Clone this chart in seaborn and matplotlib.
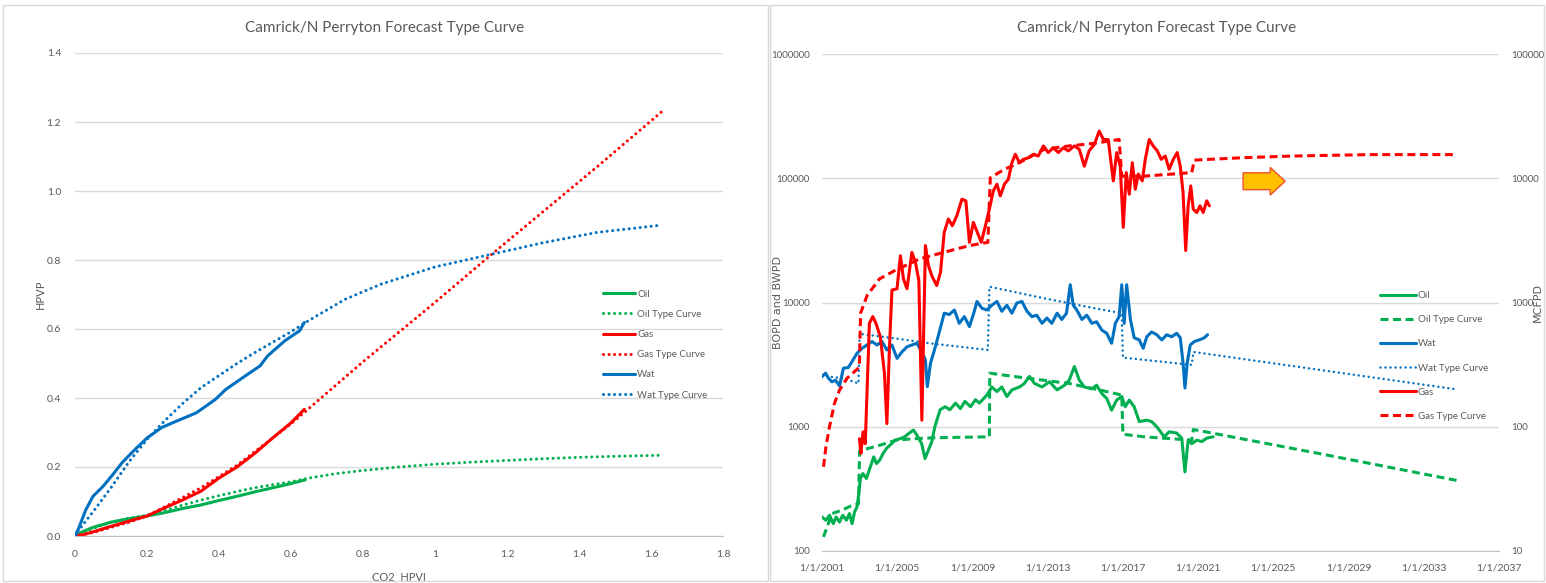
import matplotlib
matplotlib.use("Agg")
import matplotlib.pyplot as plt
import matplotlib.dates as mdates
from matplotlib.patches import Rectangle, FancyArrow
from matplotlib.ticker import FuncFormatter, NullLocator
import seaborn as sns
import pandas as pd
import numpy as np

# ---- left chart: cumulative HPVP against CO2 HPVI
oil_hpvi = [0, 0.02, 0.05, 0.1, 0.15, 0.2, 0.25, 0.3, 0.35, 0.4, 0.45, 0.5, 0.55, 0.6, 0.64]
oil_hpvp = [0, 0.012, 0.025, 0.04, 0.05, 0.058, 0.068, 0.08, 0.09, 0.103, 0.115, 0.128, 0.14, 0.152, 0.163]
oil_tc_hpvi = [0, 0.02, 0.05, 0.1, 0.15, 0.2, 0.25, 0.3, 0.35, 0.4, 0.45, 0.5, 0.55, 0.6, 0.65,
               0.72, 0.8, 0.9, 1.0, 1.1, 1.2, 1.3, 1.4, 1.5, 1.63]
oil_tc_hpvp = [0, 0.01, 0.022, 0.04, 0.052, 0.06, 0.074, 0.09, 0.104, 0.117, 0.129, 0.14, 0.149, 0.157, 0.168,
               0.18, 0.19, 0.2, 0.208, 0.214, 0.219, 0.224, 0.228, 0.231, 0.234]

gas_hpvi = [0, 0.02, 0.05, 0.1, 0.15, 0.2, 0.25, 0.3, 0.35, 0.4, 0.45, 0.5, 0.55, 0.6, 0.637]
gas_hpvp = [0, 0.003, 0.012, 0.028, 0.043, 0.058, 0.082, 0.105, 0.13, 0.168, 0.2, 0.24, 0.285, 0.328, 0.367]
gas_tc_hpvi = [0, 0.05, 0.1, 0.15, 0.2, 0.25, 0.3, 0.35, 0.4, 0.45, 0.5, 0.55, 0.6, 0.65,
               0.8, 1.0, 1.15, 1.3, 1.45, 1.63]
gas_tc_hpvp = [0, 0.01, 0.025, 0.04, 0.058, 0.085, 0.112, 0.14, 0.172, 0.205, 0.245, 0.285, 0.325, 0.37,
               0.505, 0.677, 0.81, 0.94, 1.07, 1.23]

wat_hpvi = [0, 0.01, 0.03, 0.05, 0.078, 0.105, 0.132, 0.166, 0.2, 0.24, 0.282, 0.337, 0.39, 0.419,
            0.473, 0.514, 0.535, 0.583, 0.624, 0.637]
wat_hpvp = [0, 0.022, 0.076, 0.115, 0.144, 0.178, 0.214, 0.25, 0.284, 0.314, 0.333, 0.357, 0.396, 0.425,
            0.464, 0.493, 0.522, 0.566, 0.595, 0.619]
wat_tc_hpvi = [0, 0.02, 0.05, 0.1, 0.15, 0.2, 0.25, 0.3, 0.35, 0.4, 0.45, 0.5, 0.55, 0.6, 0.65,
               0.75, 0.85, 1.0, 1.15, 1.3, 1.45, 1.62]
wat_tc_hpvp = [0, 0.03, 0.07, 0.14, 0.215, 0.28, 0.335, 0.385, 0.43, 0.465, 0.5, 0.532, 0.562, 0.592, 0.625,
               0.686, 0.73, 0.78, 0.815, 0.85, 0.88, 0.90]

# ---- right chart: rates vs time (decimal years), oil/water in BPD, gas in MCFPD
oil_yr = [2001.0, 2001.2, 2001.4, 2001.6, 2001.75, 2001.93, 2002.1, 2002.3, 2002.46, 2002.6, 2002.73, 2002.86,
          2002.96, 2003.04, 2003.18, 2003.36, 2003.57, 2003.75, 2003.9, 2004.07, 2004.25, 2004.43, 2004.7,
          2004.88, 2005.14, 2005.4, 2005.6, 2005.86, 2006.04, 2006.3, 2006.48, 2006.66, 2006.84, 2007.0,
          2007.28, 2007.55, 2007.8, 2008.1, 2008.36, 2008.6, 2008.9, 2009.16, 2009.37, 2009.77, 2010.03,
          2010.3, 2010.56, 2010.83, 2011.1, 2011.5, 2011.76, 2012.03, 2012.3, 2012.7, 2013.1, 2013.5,
          2013.9, 2014.15, 2014.42, 2014.68, 2014.95, 2015.35, 2015.6, 2015.88, 2016.14, 2016.4, 2016.67,
          2016.94, 2017.13, 2017.34, 2017.6, 2017.87, 2018.27, 2018.53, 2018.8, 2019.2, 2019.46, 2019.86,
          2020.13, 2020.3, 2020.47, 2020.66, 2020.93, 2021.2, 2021.46, 2021.8]
oil_bpd = [188, 177, 194, 166, 188, 171, 194, 177, 200, 166, 206, 226,
           290, 383, 420, 383, 475, 572, 505, 540, 610, 670, 730,
           780, 800, 830, 880, 940, 860, 730, 555, 650, 760, 1000,
           1370, 1450, 1370, 1550, 1400, 1600, 1450, 1650, 1550, 1800, 2090,
           1920, 2090, 1750, 1980, 2090, 2230, 2540, 2230, 2090, 2300, 1980,
           2160, 2380, 3050, 2380, 2090, 2020, 2160, 1850, 1690, 1360, 1640,
           1750, 1450, 1640, 1450, 1100, 1130, 1100, 1000, 830, 910, 890,
           810, 433, 780, 730, 780, 760, 810, 830]

oil_tc_yr = [2001.08, 2001.53, 2002.06, 2002.6, 2002.94, 2003.0, 2004.07, 2004.96, 2005.86, 2006.9, 2009.9,
             2009.92, 2010.7, 2012.0, 2014.15, 2015.74, 2016.94, 2017.0, 2018.13, 2020.66, 2020.75,
             2027.4, 2034.74]
oil_tc_bpd = [130, 200, 213, 233, 240, 640, 710, 780, 800, 815, 830,
              2700, 2600, 2450, 2230, 1980, 1800, 870, 830, 780, 950,
              610, 370]

wat_yr = [2001.0, 2001.19, 2001.35, 2001.53, 2001.72, 2001.93, 2002.14, 2002.4, 2002.6, 2002.86, 2003.13,
          2003.39, 2003.66, 2003.92, 2004.19, 2004.45, 2004.72, 2004.99, 2005.25, 2005.52, 2005.78, 2006.05,
          2006.31, 2006.5, 2006.6, 2006.77, 2006.98, 2007.24, 2007.5, 2007.77, 2008.04, 2008.3, 2008.57,
          2008.84, 2009.1, 2009.24, 2009.5, 2009.77, 2010.03, 2010.3, 2010.56, 2010.83, 2011.1, 2011.36,
          2011.63, 2011.9, 2012.16, 2012.42, 2012.7, 2012.96, 2013.22, 2013.5, 2013.75, 2014.0, 2014.2,
          2014.36, 2014.55, 2014.82, 2015.08, 2015.35, 2015.6, 2015.88, 2016.14, 2016.4, 2016.6, 2016.8,
          2016.94, 2017.07, 2017.2, 2017.4, 2017.6, 2017.87, 2018.08, 2018.27, 2018.53, 2018.8, 2019.07,
          2019.33, 2019.6, 2019.86, 2020.05, 2020.2, 2020.3, 2020.42, 2020.58, 2020.8, 2021.06, 2021.33,
          2021.5]
wat_bpd = [2530, 2700, 2450, 2300, 2370, 2130, 2960, 3000, 3350, 3900, 4280,
           4550, 4850, 4550, 4850, 4150, 4550, 3550, 4000, 4400, 4550, 4700,
           4000, 3450, 2100, 3250, 4150, 5800, 8200, 8000, 8700, 6800, 7700,
           6400, 8500, 10200, 9000, 8700, 9500, 10200, 8500, 9500, 8200, 9900,
           10200, 8500, 7700, 7900, 6800, 7500, 6800, 8200, 7300, 8200, 13900,
           9500, 8700, 7300, 7900, 6800, 7000, 6000, 5650, 4700, 6800, 7700,
           13900, 6800, 13900, 7300, 5200, 5000, 4280, 5300, 5800, 5500, 5000,
           5500, 5300, 5650, 5200, 3250, 2050, 3250, 4550, 4850, 5000, 5200,
           5500]

wat_tc_yr = [2001.0, 2001.4, 2002.2, 2002.94, 2003.0, 2004.85, 2006.7, 2009.82, 2009.9, 2012.82, 2015.48,
             2016.94, 2017.0, 2020.66, 2020.75, 2034.74]
wat_tc_bpd = [2600, 2530, 2450, 2230, 5600, 5150, 4700, 4150, 13400, 10800, 9000,
              8200, 3600, 3150, 4000, 2000]

gas_yr = [2002.99, 2003.07, 2003.18, 2003.3, 2003.52, 2003.7, 2003.87, 2004.1, 2004.32, 2004.45, 2004.59,
          2004.72, 2004.99, 2005.17, 2005.33, 2005.52, 2005.78, 2005.97, 2006.15, 2006.31, 2006.5, 2006.66,
          2006.84, 2007.1, 2007.3, 2007.5, 2007.72, 2007.93, 2008.17, 2008.44, 2008.65, 2008.84, 2009.05,
          2009.26, 2009.47, 2009.69, 2009.9, 2010.11, 2010.3, 2010.48, 2010.7, 2010.91, 2011.1, 2011.28,
          2011.5, 2011.7, 2011.97, 2012.24, 2012.5, 2012.77, 2013.03, 2013.3, 2013.57, 2013.83, 2014.1,
          2014.42, 2014.68, 2014.95, 2015.2, 2015.48, 2015.74, 2015.96, 2016.22, 2016.49, 2016.67, 2016.86,
          2017.02, 2017.18, 2017.34, 2017.5, 2017.66, 2017.82, 2018.03, 2018.19, 2018.4, 2018.61, 2018.83,
          2019.04, 2019.25, 2019.46, 2019.68, 2019.89, 2020.05, 2020.2, 2020.34, 2020.47, 2020.61, 2020.74,
          2020.93, 2021.1, 2021.27, 2021.46, 2021.6]
gas_mcfpd = [80, 61, 91, 73, 680, 770, 680, 530, 270, 106, 444,
             1260, 1290, 2380, 1550, 1290, 2530, 2100, 1500, 113, 2870, 1980,
             1640, 1370, 1750, 3670, 4700, 4150, 4990, 6780, 6580, 3050, 4410,
             3670, 3050, 4150, 5640, 7910, 8950, 7210, 8950, 9820, 13350, 15600,
             13350, 14200, 14600, 15600, 15100, 18200, 16100, 17600, 16100, 17600, 16600,
             18200, 17100, 12500, 16600, 18700, 24000, 20500, 20500, 9520, 16100, 12500,
             4020, 11100, 7440, 13350, 8160, 10800, 9520, 14200, 20500, 18200, 16600,
             14200, 15100, 11800, 14200, 16100, 12500, 7670, 2620, 6000, 8680, 5640,
             5300, 6000, 5300, 6580, 6000]

gas_tc_yr = [2001.08, 2001.21, 2001.4, 2001.66, 2001.93, 2002.33, 2002.73, 2002.99, 2003.05, 2003.4, 2004.06,
             2004.85, 2006.18, 2007.5, 2008.84, 2009.82, 2009.95, 2010.7, 2011.5, 2012.82, 2014.15,
             2015.48, 2016.8, 2016.94, 2018.13, 2020.66, 2020.8, 2023.45, 2026.1, 2030.1, 2034.74]
gas_tc_mcfpd = [47.6, 69, 100, 154, 197, 246, 278, 302, 820, 1140, 1550,
                1800, 2240, 2540, 2870, 3050, 10100, 11800, 13350, 17100, 18200,
                19100, 20500, 10400, 10400, 11100, 14000, 14650, 15100, 15500, 15500]

TITLE = "Camrick/N Perryton Forecast Type Curve"
GREEN, RED, BLUE = "#00B050", "#FF0000", "#0070C0"
GREY_TXT, GRID = "#595959", "#D9D9D9"


def to_date(years):
    years = np.asarray(years, dtype=float)
    return pd.Timestamp("2001-01-01") + pd.to_timedelta((years - 2001) * 365.25, unit="D")


sns.set_style("white")
plt.rcParams["font.family"] = ["Lato", "DejaVu Sans"]

fig = plt.figure(figsize=(15.46, 5.83), dpi=100)

# panel frames
for x0, x1 in [(3, 768), (770, 1544)]:
    fig.add_artist(Rectangle((x0 / 1546, 2 / 583), (x1 - x0) / 1546, 576 / 583,
                             transform=fig.transFigure, fill=False, ec=GRID, lw=1))
fig.text(385 / 1546, 1 - 28 / 583, TITLE, ha="center", va="center", fontsize=11, color=GREY_TXT)
fig.text(1157 / 1546, 1 - 28 / 583, TITLE, ha="center", va="center", fontsize=11, color=GREY_TXT)

DOT = (0, (0.01, 1.8))
DOT_R = (0, (0.01, 2.0))
DASH = (0, (2.6, 1.5))

# ----- left chart
ax1 = fig.add_axes([75 / 1546, 47 / 583, 648 / 1546, 483 / 583])
left_series = [
    (oil_hpvi, oil_hpvp, GREEN, "-", "Oil"),
    (oil_tc_hpvi, oil_tc_hpvp, GREEN, DOT, "Oil Type Curve"),
    (gas_hpvi, gas_hpvp, RED, "-", "Gas"),
    (gas_tc_hpvi, gas_tc_hpvp, RED, DOT, "Gas Type Curve"),
    (wat_hpvi, wat_hpvp, BLUE, "-", "Wat"),
    (wat_tc_hpvi, wat_tc_hpvp, BLUE, DOT, "Wat Type Curve"),
]
for xs, ys, c, ls, lab in left_series:
    sns.lineplot(x=xs, y=ys, ax=ax1, color=c, linestyle=ls, lw=2.2, label=lab,
                 estimator=None, sort=False, legend=False, dash_capstyle="round")

ax1.set_xlim(0, 1.8)
ax1.set_ylim(0, 1.4)
ax1.set_xticks(np.arange(0, 1.81, 0.2))
ax1.set_yticks(np.arange(0, 1.41, 0.2))
ax1.xaxis.set_major_formatter(FuncFormatter(lambda v, p: "{:g}".format(round(v, 2))))
ax1.yaxis.set_major_formatter(FuncFormatter(lambda v, p: "{:.1f}".format(v)))
ax1.grid(axis="y", color=GRID, lw=1)
ax1.set_axisbelow(True)
for s in ["top", "right", "left"]:
    ax1.spines[s].set_visible(False)
ax1.spines["bottom"].set_color("#BFBFBF")
ax1.tick_params(axis="x", length=4, color="#BFBFBF", labelsize=7.5, labelcolor=GREY_TXT, pad=6)
ax1.tick_params(axis="y", length=0, labelsize=7.5, labelcolor=GREY_TXT, pad=10)
ax1.set_xlabel("CO2  HPVI", fontsize=8, color=GREY_TXT)
ax1.xaxis.set_label_coords(0.5, -0.075)
ax1.set_ylabel("HPVP", fontsize=8, color=GREY_TXT, family="DejaVu Sans")
ax1.yaxis.set_label_coords(-0.045, 0.5)
ax1.legend(loc="upper left", bbox_to_anchor=(0.815, 0.51), frameon=False, fontsize=7,
           labelcolor=GREY_TXT, handlelength=3.3, handletextpad=0.2, labelspacing=1.15,
           borderpad=0, borderaxespad=0)

# ----- right chart
ax2 = fig.add_axes([822 / 1546, 32 / 583, 677 / 1546, 497 / 583])
ax3 = ax2.twinx()
for xs, ys, c, ls, lw, lab in [
    (oil_yr, oil_bpd, GREEN, "-", 2.2, "Oil"),
    (oil_tc_yr, oil_tc_bpd, GREEN, DASH, 2.2, "Oil Type Curve"),
    (wat_yr, wat_bpd, BLUE, "-", 2.2, "Wat"),
    (wat_tc_yr, wat_tc_bpd, BLUE, DOT_R, 1.8, "Wat Type Curve"),
]:
    sns.lineplot(x=to_date(xs), y=ys, ax=ax2, color=c, linestyle=ls, lw=lw, label=lab,
                 estimator=None, sort=False, legend=False,
                 dash_capstyle="round" if ls == DOT_R else "butt")
for xs, ys, c, ls, lab in [
    (gas_yr, gas_mcfpd, RED, "-", "Gas"),
    (gas_tc_yr, gas_tc_mcfpd, RED, DASH, "Gas Type Curve"),
]:
    sns.lineplot(x=to_date(xs), y=ys, ax=ax3, color=c, linestyle=ls, lw=2.2, label=lab,
                 estimator=None, sort=False, legend=False, dash_capstyle="butt")

ax2.set_yscale("log")
ax3.set_yscale("log")
ax2.set_ylim(100, 1e6)
ax3.set_ylim(10, 1e5)
ax2.set_yticks([1e2, 1e3, 1e4, 1e5, 1e6])
ax3.set_yticks([1e1, 1e2, 1e3, 1e4, 1e5])
for a in (ax2, ax3):
    a.yaxis.set_major_formatter(FuncFormatter(lambda v, p: "{:.0f}".format(v)))
    a.yaxis.set_minor_locator(NullLocator())
    for s in ["top", "right", "left"]:
        a.spines[s].set_visible(False)
    a.tick_params(axis="y", length=0, labelsize=7, labelcolor=GREY_TXT, pad=9)
ax3.spines["bottom"].set_visible(False)
ax2.spines["bottom"].set_color("#BFBFBF")
ax2.set_xlim(pd.Timestamp("2001-01-01"), pd.Timestamp("2037-01-01"))
ax2.set_xticks(pd.date_range("2001-01-01", "2037-01-01", freq="4YS"))
ax2.xaxis.set_major_formatter(mdates.DateFormatter("%-m/%-d/%Y"))
ax2.tick_params(axis="x", length=4, color="#BFBFBF", labelsize=7.5, labelcolor=GREY_TXT, pad=5)
ax2.grid(axis="y", color=GRID, lw=1)
ax3.grid(False)
ax2.set_axisbelow(True)
ax2.set_xlabel("")
ax2.set_ylabel("BOPD and BWPD", fontsize=8, color=GREY_TXT, family="DejaVu Sans")
ax2.yaxis.set_label_coords(-0.058, 0.5)
ax3.set_ylabel("MCFPD", fontsize=8, color=GREY_TXT, family="DejaVu Sans")
ax3.yaxis.set_label_coords(1.05, 0.5)

h2, l2 = ax2.get_legend_handles_labels()
h3, l3 = ax3.get_legend_handles_labels()
ax3.legend(h2 + h3, l2 + l3, loc="upper left", bbox_to_anchor=(0.824, 0.523), frameon=False,
           fontsize=7, labelcolor=GREY_TXT, handlelength=3.7, handletextpad=0.2, labelspacing=1.56,
           borderpad=0, borderaxespad=0)

# forecast arrow
ax3.add_patch(FancyArrow(0.622, 0.744, 0.062, 0, width=0.034, head_width=0.056, head_length=0.022,
                         length_includes_head=True, transform=ax3.transAxes,
                         fc="#FFC000", ec="#F0502A", lw=1))

fig.savefig("out.png", dpi=100)
